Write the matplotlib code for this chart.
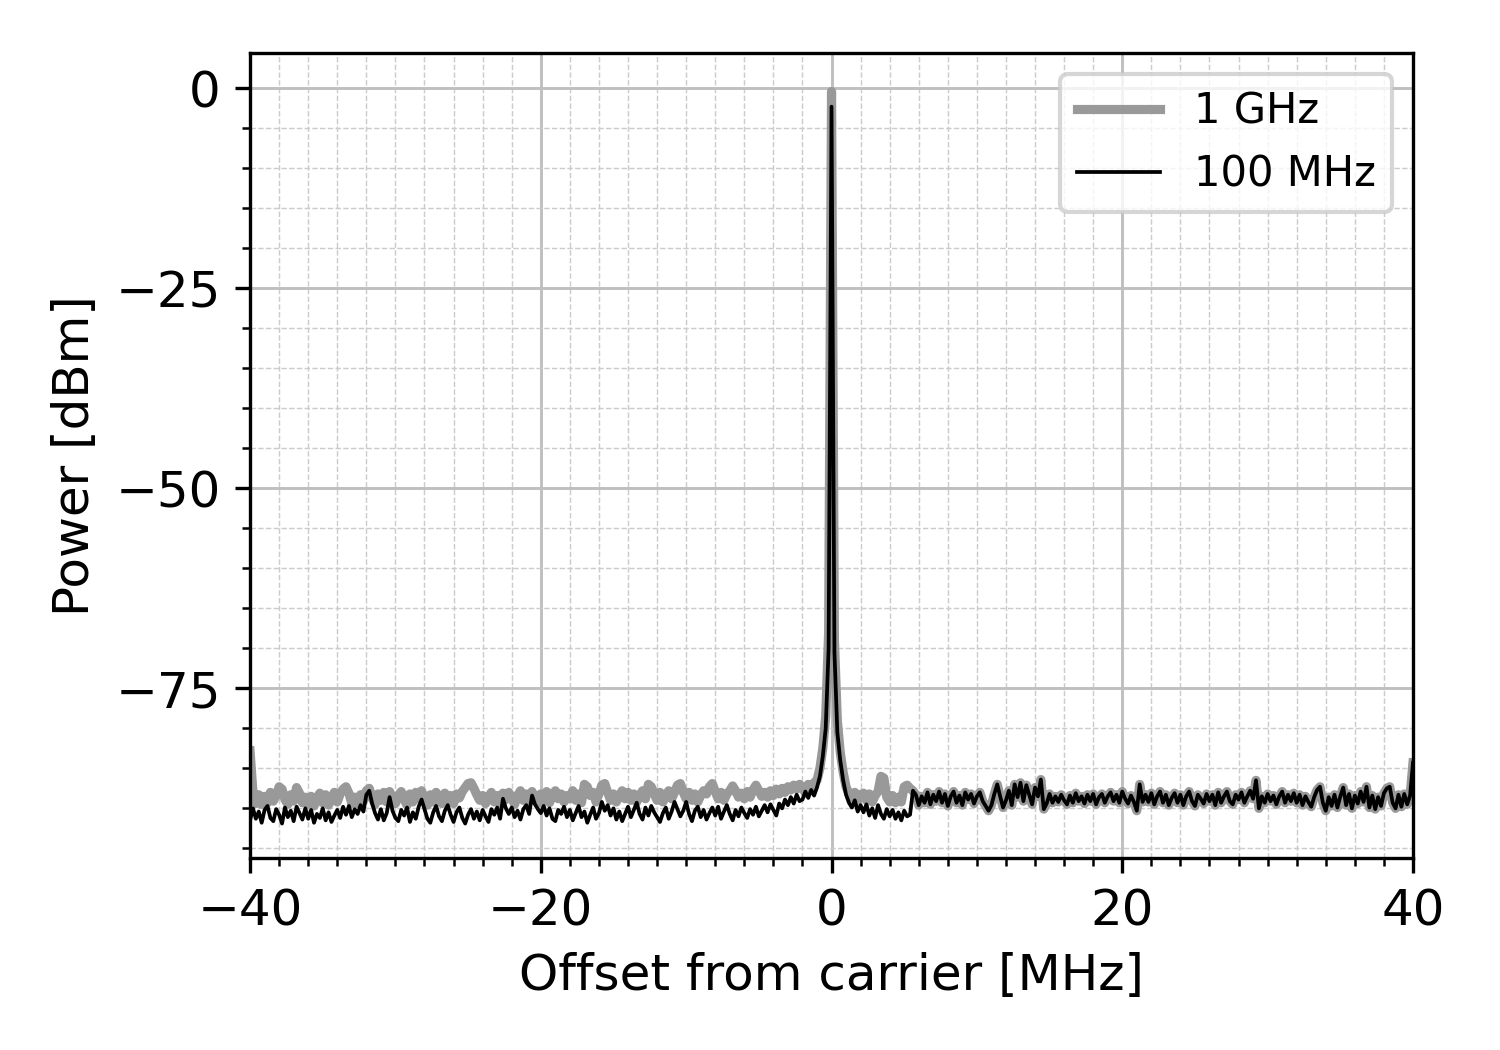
import numpy as np
import matplotlib
matplotlib.use("Agg")
import matplotlib.pyplot as plt
from matplotlib.ticker import MultipleLocator

plt.rcParams["font.family"] = "DejaVu Sans"

# ── data (0.2 MHz bins) ──────────────────────────────────────
STEP = 0.2

# 100 MHz span, -40.0 .. -2.2 MHz
p100_left = [
    -91.5, -90.0, -91.3, -90.4, -91.8, -90.2, -89.7, -91.2, -91.6, -90.1,
    -90.8, -91.9, -89.9, -91.1, -90.3, -91.6, -89.8, -90.6, -91.4, -90.0,
    -91.3, -90.2, -91.8, -90.7, -91.2, -90.0, -91.5, -90.5, -91.7, -90.9,
    -90.2, -91.2, -89.8, -90.8, -89.7, -91.1, -90.1, -90.7, -89.6, -90.4,
    -88.3, -87.8, -89.4, -90.6, -91.4, -90.1, -91.5, -90.6, -88.6, -90.3,
    -91.2, -91.6, -90.2, -90.9, -89.9, -91.7, -90.5, -91.3, -89.8, -88.9,
    -90.1, -91.3, -91.8, -90.5, -89.7, -91.0, -91.6, -90.3, -89.6, -90.8,
    -91.7, -90.5, -89.9, -91.2, -91.9, -90.8, -90.1, -91.3, -90.4, -91.5,
    -90.2, -91.0, -91.7, -90.1, -90.8, -89.9, -91.3, -88.8, -90.0, -90.7,
    -89.9, -91.1, -90.3, -91.4, -90.1, -89.6, -90.7, -88.4, -89.5, -90.1,
    -90.6, -89.7, -90.9, -90.0, -91.3, -91.6, -90.2, -90.7, -89.8, -91.1,
    -90.2, -91.5, -90.6, -89.7, -91.1, -90.4, -91.8, -90.8, -89.9, -91.3,
    -90.6, -89.2, -90.3, -89.6, -90.9, -90.0, -91.4, -90.4, -91.6, -90.7,
    -89.8, -91.1, -90.2, -89.3, -90.7, -91.4, -89.9, -90.9, -89.7, -90.5,
    -91.1, -91.7, -90.6, -89.9, -91.3, -90.4, -89.2, -90.1, -91.0, -90.3,
    -89.2, -90.7, -91.6, -90.3, -89.8, -91.1, -90.2, -91.4, -90.6, -89.9,
    -90.9, -89.8, -91.3, -90.4, -89.6, -90.7, -91.5, -90.2, -91.0, -89.9,
    -90.6, -91.2, -90.1, -90.8, -89.8, -91.0, -90.3, -89.6, -90.5, -89.5,
    -90.2, -90.9, -89.4, -90.0, -88.9, -89.6, -88.6, -89.4, -88.3, -89.1,
]

# 1 GHz span, -40.0 .. -2.2 MHz
p1g_left = [
    -82.8, -88.0, -89.4, -88.3, -89.5, -88.5, -89.3, -88.0, -89.1, -88.4,
    -87.3, -87.6, -88.9, -89.5, -88.3, -89.1, -87.4, -88.1, -89.3, -88.6,
    -89.5, -88.5, -89.7, -88.7, -88.1, -89.3, -88.3, -89.6, -88.8, -88.0,
    -89.2, -88.2, -87.6, -87.3, -88.1, -89.4, -88.6, -89.4, -88.3, -89.1,
    -87.8, -87.5, -88.7, -89.5, -88.2, -89.0, -88.0, -89.2, -87.9, -88.7,
    -89.4, -88.4, -87.9, -88.9, -89.6, -88.2, -89.2, -88.0, -88.8, -87.8,
    -88.9, -89.6, -88.3, -89.2, -88.0, -88.7, -89.4, -88.1, -88.9, -88.4,
    -89.4, -88.2, -88.7, -87.9, -87.4, -86.9, -86.8, -87.5, -88.3, -89.0,
    -88.4, -89.4, -88.6, -88.0, -89.2, -88.4, -89.4, -88.1, -88.9, -88.0,
    -88.7, -89.5, -88.4, -87.8, -89.0, -88.2, -89.2, -87.9, -88.7, -89.4,
    -88.2, -89.0, -87.9, -89.3, -88.4, -87.8, -88.8, -88.2, -89.2, -88.4,
    -88.8, -87.8, -89.0, -88.2, -89.3, -87.0, -87.3, -88.4, -88.0, -89.2,
    -88.2, -87.1, -86.9, -88.0, -89.0, -88.2, -89.2, -88.4, -87.8, -88.8,
    -88.0, -89.0, -88.2, -89.2, -88.4, -87.8, -88.8, -87.0, -87.3, -88.2,
    -89.0, -88.0, -89.2, -88.4, -87.8, -88.8, -88.0, -87.1, -86.9, -88.0,
    -88.8, -88.0, -89.0, -88.2, -89.2, -88.4, -87.8, -88.2, -87.3, -86.9,
    -87.9, -88.8, -88.0, -89.0, -88.2, -87.8, -87.2, -87.8, -88.6, -88.1,
    -88.8, -87.9, -88.6, -87.7, -87.1, -87.8, -88.5, -88.0, -88.6, -87.8,
    -88.4, -87.6, -88.2, -87.5, -88.0, -87.3, -87.7, -87.1, -87.6, -87.0,
]

# carrier, -2.0 .. 2.0 MHz
p100_carrier = [
    -88.9, -87.9, -88.7, -87.7, -88.4, -87.4, -86.0, -83.5, -80.0, -70.0,
    -2.3,
    -70.5, -80.5, -84.0, -86.5, -88.3, -89.3, -89.9, -89.0, -90.4, -89.6,
]
p1g_carrier = [
    -87.4, -88.1, -87.0, -87.7, -86.8, -86.5, -85.0, -82.5, -78.5, -68.0,
    -0.4,
    -69.0, -79.0, -83.0, -85.5, -87.3, -88.2, -88.7, -88.0, -89.0, -88.3,
]

# 2.2 .. 5.4 MHz
p100_near = [
    -90.5, -89.5, -90.9, -90.0, -91.2, -89.6, -90.7, -91.3, -90.1, -91.0,
    -90.2, -91.3, -90.5, -91.5, -90.3, -91.0, -90.8,
]
p1g_near = [
    -88.1, -89.0, -88.2, -89.2, -88.4, -87.9, -86.0, -86.2, -88.6, -89.2,
    -88.4, -89.3, -88.6, -89.2, -87.3, -87.1, -87.5,
]

# 5.6 .. 40.0 MHz, same for both spans
p_right = [
    -87.8, -88.3, -89.6, -88.5, -89.3, -88.0, -89.5, -88.3, -89.1, -87.9,
    -89.3, -88.2, -89.7, -88.5, -87.9, -89.3, -88.4, -89.6, -88.0, -88.9,
    -88.2, -89.4, -88.5, -88.0, -89.1, -89.7, -90.3, -89.6, -88.2, -87.0,
    -88.5, -89.9, -89.0, -87.8, -89.6, -87.0, -88.6, -86.8, -89.1, -87.1,
    -88.3, -89.5, -87.4, -88.5, -86.4, -90.1, -89.4, -88.2, -89.3, -88.5,
    -89.2, -88.3, -89.0, -89.5, -88.4, -89.3, -88.1, -89.1, -88.5, -89.4,
    -88.3, -89.1, -88.2, -89.5, -88.6, -88.2, -89.3, -88.5, -88.0, -89.1,
    -88.3, -89.3, -87.9, -88.8, -89.4, -88.4, -89.2, -90.3, -87.0, -89.2,
    -88.3, -89.2, -88.1, -89.5, -88.5, -87.9, -89.3, -88.3, -89.6, -88.7,
    -88.1, -89.3, -88.3, -89.6, -88.5, -87.9, -89.1, -89.7, -88.3, -88.8,
    -89.4, -88.2, -89.1, -88.3, -89.6, -88.0, -89.3, -88.5, -87.9, -89.1,
    -89.5, -88.3, -88.9, -88.0, -89.3, -88.5, -87.8, -88.8, -86.5, -90.0,
    -88.5, -89.3, -88.2, -89.1, -88.4, -89.5, -88.5, -87.9, -89.3, -88.3,
    -89.1, -88.1, -89.3, -88.3, -89.6, -88.5, -89.2, -89.8, -88.6, -87.7,
    -87.3, -89.3, -90.3, -88.6, -89.7, -88.3, -89.9, -88.5, -87.4, -89.6,
    -88.2, -90.0, -88.4, -89.4, -87.9, -89.2, -87.3, -89.9, -88.4, -90.1,
    -88.6, -89.7, -88.1, -87.5, -87.3, -89.3, -90.0, -88.3, -89.8, -88.2,
    -89.5, -88.4, -84.3,
]

p100 = np.array(p100_left + p100_carrier + p100_near + p_right)
p1g = np.array(p1g_left + p1g_carrier + p1g_near + p_right)
freq = -40 + STEP * np.arange(len(p100))

# ── plot ──────────────────────────────────────────────────────
fig = plt.figure(figsize=(5, 3.5), dpi=300)
ax = fig.add_axes([0.1667, 0.1829, 0.7753, 0.7666])

ax.plot(freq, p1g, color="0.6", lw=2.2, label="1 GHz", zorder=2)
ax.plot(freq, p100, color="black", lw=0.9, label="100 MHz", zorder=3)

ax.set_xlim(-40, 40)
ax.set_ylim(-96.2, 4.4)
ax.xaxis.set_major_locator(MultipleLocator(20))
ax.xaxis.set_minor_locator(MultipleLocator(2))
ax.yaxis.set_major_locator(MultipleLocator(25))
ax.yaxis.set_minor_locator(MultipleLocator(5))

ax.grid(which="major", color="0.75", lw=0.7)
ax.grid(which="minor", color="0.8", lw=0.35, ls="--")
ax.set_axisbelow(True)

ax.tick_params(labelsize=12)
ax.set_xlabel("Offset from carrier [MHz]", fontsize=12)
ax.set_ylabel("Power [dBm]", fontsize=12)
ax.legend(loc="upper right", fontsize=10)

fig.savefig("out.png", dpi=300)
